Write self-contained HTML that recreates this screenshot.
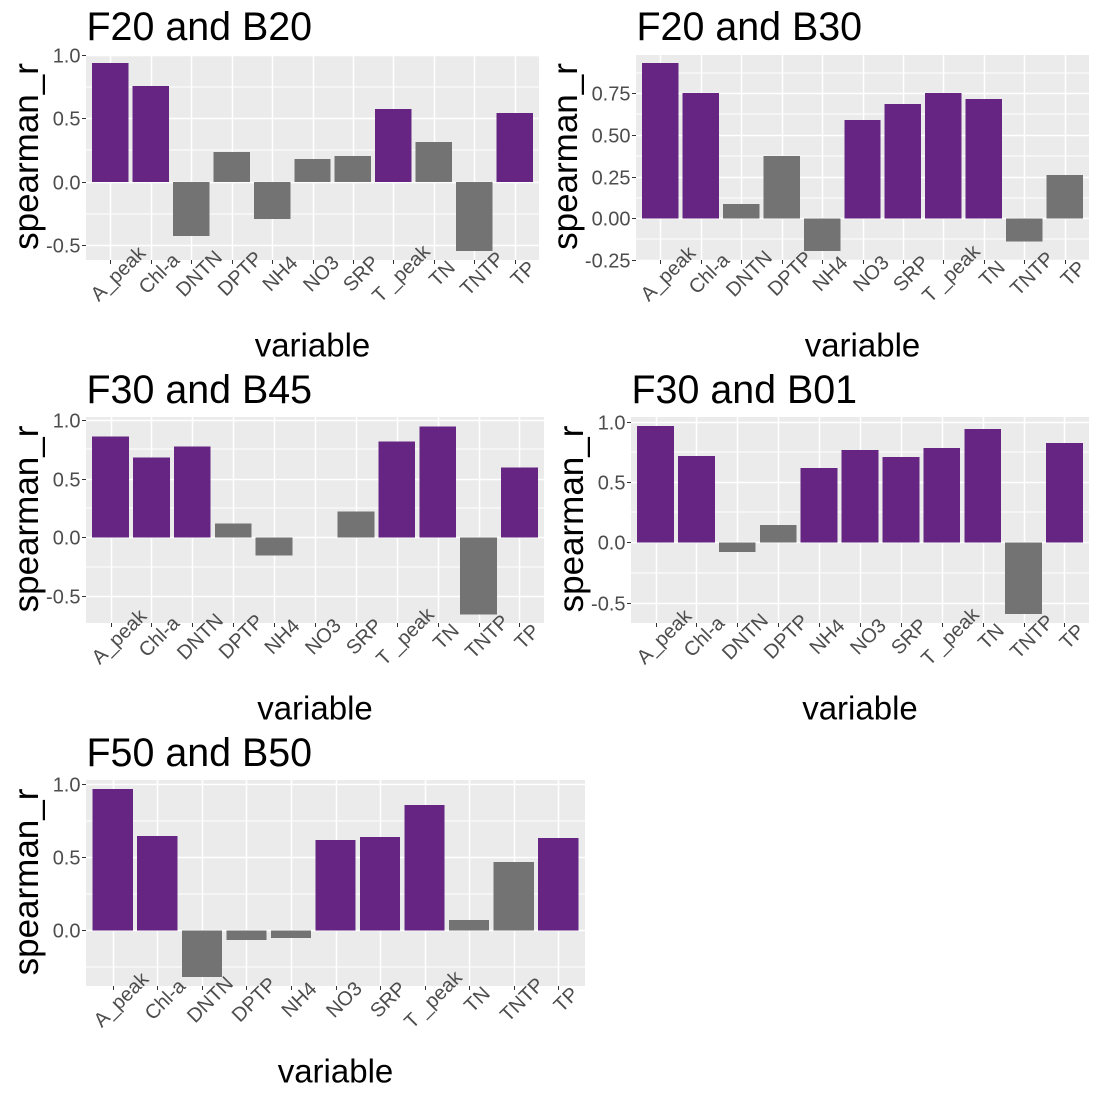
<!DOCTYPE html>
<html lang="en">
<head>
<meta charset="utf-8">
<title>Spearman correlation bar charts</title>
<style>
html,body{margin:0;padding:0;background:#fff;}
svg{display:block;font-family:"Liberation Sans",Arial,sans-serif;}
</style>
</head>
<body>
<svg id="chart" xmlns="http://www.w3.org/2000/svg" width="1100" height="1100" viewBox="0 0 1100 1100"></svg>
<script>
const categories = ["A_peak","Chl-a","DNTN","DPTP","NH4","NO3","SRP","T _peak","TN","TNTP","TP"];

const valuesF20B20 = [0.937,0.756,-0.427,0.235,-0.293,0.18,0.204,0.574,0.314,-0.545,0.543];
const valuesF20B30 = [0.932,0.752,0.086,0.374,-0.195,0.59,0.686,0.752,0.716,-0.14,0.26];
const valuesF30B45 = [0.861,0.682,0.776,0.119,-0.153,0,0.222,0.818,0.946,-0.656,0.597];
const valuesF30B01 = [0.969,0.719,-0.081,0.144,0.619,0.769,0.711,0.786,0.944,-0.597,0.828];
const valuesF50B50 = [0.966,0.645,-0.319,-0.066,-0.052,0.617,0.638,0.856,0.07,0.467,0.631];

const ticksOneDecimal = [-0.5,0,0.5,1];
const ticksQuarter = [-0.25,0,0.25,0.5,0.75];
const ticksFifty = [0,0.5,1];

const significanceThreshold = 0.5;

const panels = [
  {id:"f20-b20",title:"F20 and B20",values:valuesF20B20,ticks:ticksOneDecimal,digits:1,domain:[-0.616,1.0],
   box:[86,55,539,260],titleX:86.5,titleY:40,yTitleX:38,xTitleY:356.5},
  {id:"f20-b30",title:"F20 and B30",values:valuesF20B30,ticks:ticksQuarter,digits:2,domain:[-0.25,0.98],
   box:[636,55,1089,260],titleX:636.5,titleY:40,yTitleX:577,xTitleY:356.5},
  {id:"f30-b45",title:"F30 and B45",values:valuesF30B45,ticks:ticksOneDecimal,digits:1,domain:[-0.73,1.026],
   box:[86,417,544,623],titleX:86.5,titleY:403,yTitleX:38,xTitleY:719.5},
  {id:"f30-b01",title:"F30 and B01",values:valuesF30B01,ticks:ticksOneDecimal,digits:1,domain:[-0.67,1.044],
   box:[631,417,1089,623],titleX:631.5,titleY:403,yTitleX:583,xTitleY:719.5},
  {id:"f50-b50",title:"F50 and B50",values:valuesF50B50,ticks:ticksFifty,digits:1,domain:[-0.38,1.027],
   box:[86,780,585,986],titleX:86.5,titleY:766,yTitleX:38,xTitleY:1082.5}
];

const SVG_NS = "http://www.w3.org/2000/svg";
const root = document.getElementById("chart");

function make(tag, parent, attrs, text) {
  const el = document.createElementNS(SVG_NS, tag);
  for (const k in attrs) el.setAttribute(k, attrs[k]);
  if (text !== undefined) el.textContent = text;
  parent.appendChild(el);
  return el;
}

panels.forEach(function (p) {
  const left = p.box[0], top = p.box[1], right = p.box[2], bottom = p.box[3];
  const yScale = function (v) {
    return bottom - (v - p.domain[0]) / (p.domain[1] - p.domain[0]) * (bottom - top);
  };
  const band = (right - left) / (categories.length - 1 + 1.2);
  const xScale = function (i) { return left + (0.6 + i) * band; };
  const barWidth = band * 0.9;

  const g = make("g", root, {});
  
  

  const bg = make("rect", g, {x:left,y:top,width:right-left,height:bottom-top,fill:"#ebebeb"});
  
  

  // minor horizontal gridlines: midpoints between majors, extended one step each way
  const step = p.ticks[1] - p.ticks[0];
  for (let i = -1; i < p.ticks.length; i++) {
    const mv = p.ticks[0] + (i + 0.5) * step;
    if (mv < p.domain[0] || mv > p.domain[1]) continue;
    const my = Math.round(yScale(mv));
    const minor = make("line", g, {x1:left,x2:right,y1:my,y2:my,stroke:"#fff","stroke-width":1,"shape-rendering":"crispEdges"});
    
    
  }

  // major horizontal gridlines
  p.ticks.forEach(function (t) {
    const ty = Math.round(yScale(t));
    const major = make("line", g, {x1:left,x2:right,y1:ty+0.5,y2:ty+0.5,stroke:"#fff","stroke-width":1.5});
    
    
  });

  // vertical gridlines
  categories.forEach(function (c, i) {
    const vx = Math.round(xScale(i));
    const grid = make("line", g, {x1:vx+0.5,x2:vx+0.5,y1:top,y2:bottom,stroke:"#fff","stroke-width":1.5});
    
    
  });

  // bars
  p.values.forEach(function (v, i) {
    const y0 = yScale(0), y1 = yScale(v);
    const bar = make("rect", g, {
      x: xScale(i) - barWidth / 2,
      y: Math.min(y0, y1),
      width: barWidth,
      height: Math.abs(y1 - y0),
      fill: v >= significanceThreshold ? "#662483" : "#737373",
      "shape-rendering": "crispEdges"
    });
    
    
  });

  // y ticks + labels
  p.ticks.forEach(function (t) {
    const ty = Math.round(yScale(t));
    const tick = make("line", g, {x1:left-4,x2:left,y1:ty+0.5,y2:ty+0.5,stroke:"#333","stroke-width":1,"shape-rendering":"crispEdges"});
    
    
    const label = make("text", g, {x:left-5.5,y:ty+7.5,"text-anchor":"end","font-size":20,fill:"#4d4d4d"}, t.toFixed(p.digits));
    
    
  });

  // x ticks + labels
  categories.forEach(function (c, i) {
    const vx = Math.round(xScale(i));
    const tick = make("line", g, {x1:vx+0.5,x2:vx+0.5,y1:bottom,y2:bottom+4,stroke:"#333","stroke-width":1,"shape-rendering":"crispEdges"});
    
    
    const cx = vx + 8.5, cy = bottom + 14;
    const label = make("text", g, {x:cx,y:cy,"text-anchor":"middle","dominant-baseline":"central","font-size":20,fill:"#4d4d4d",transform:"rotate(-45 "+cx+" "+cy+")"}, c);
    
    
  });

  // titles
  const title = make("text", g, {x:p.titleX,y:p.titleY,"font-size":39.4,fill:"#000"}, p.title);
  
  

  const xTitle = make("text", g, {x:(left+right)/2,y:p.xTitleY,"text-anchor":"middle","font-size":33,fill:"#000"}, "variable");
  
  

  const ymid = (top + bottom) / 2 - 1;
  const yTitle = make("text", g, {x:p.yTitleX,y:ymid,"text-anchor":"middle","font-size":35,fill:"#000",transform:"rotate(-90 "+p.yTitleX+" "+ymid+")"}, "spearman_r");
  
  
});
</script>
</body>
</html>
